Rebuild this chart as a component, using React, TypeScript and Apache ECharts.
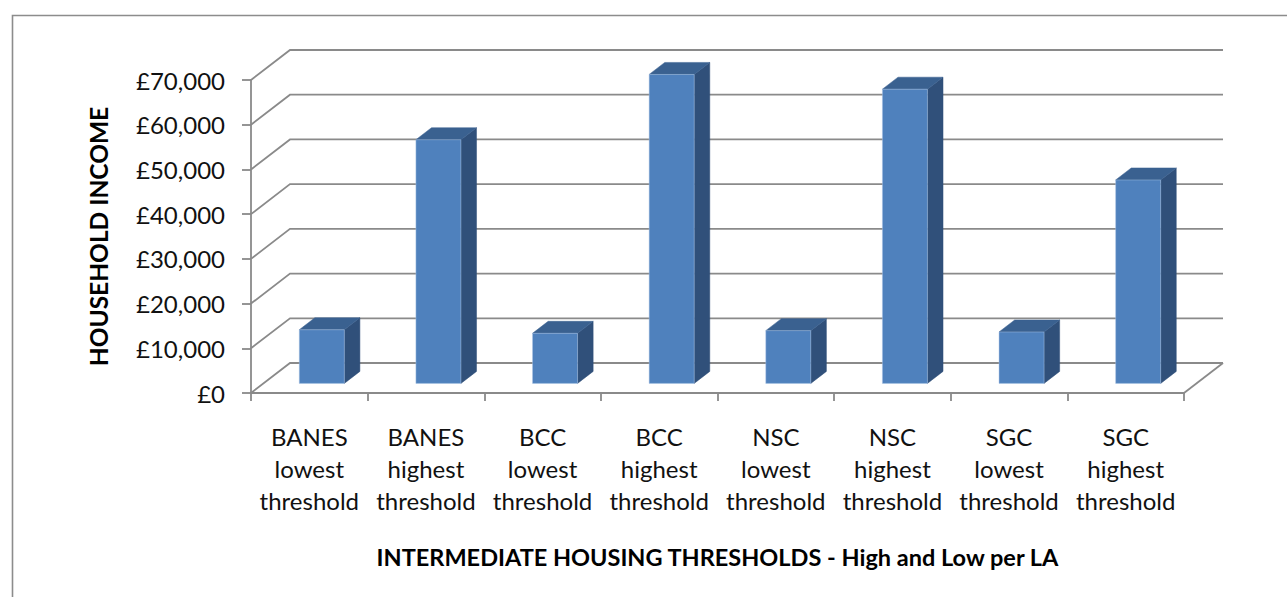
import React, { useEffect, useRef } from "react";
import * as echarts from "echarts";

// Categories (one per local authority threshold) and household income values
const categories = [
  "BANES\nlowest\nthreshold",
  "BANES\nhighest\nthreshold",
  "BCC\nlowest\nthreshold",
  "BCC\nhighest\nthreshold",
  "NSC\nlowest\nthreshold",
  "NSC\nhighest\nthreshold",
  "SGC\nlowest\nthreshold",
  "SGC\nhighest\nthreshold",
];
const householdIncome = [12000, 54500, 11200, 69100, 11800, 65800, 11500, 45500];
const incomeTicks = [0, 10000, 20000, 30000, 40000, 50000, 60000, 70000];

const yAxisTitle = "HOUSEHOLD INCOME";
const xAxisTitle = "INTERMEDIATE HOUSING THRESHOLDS - High and Low per LA";

// Oblique depth of the pseudo-3D plot box
const DEPTH_X = 39;
const DEPTH_Y = 30;
// Bar position inside the depth (fractions of the depth vector) and width (fraction of band)
const BAR_FRONT = 0.32;
const BAR_BACK = 0.72;
const BAR_WIDTH = 0.386;

const GRID_COLOR = "#8a8a8a";
const FONT = "Lato, 'Liberation Sans', sans-serif";

const fmtMoney = (v: number) =>
  "£" + String(Math.round(v)).replace(/\B(?=(\d{3})+(?!\d))/g, ",");

export default function App() {
  const ref = useRef<HTMLDivElement>(null);

  useEffect(() => {
    if (!ref.current) return;
    const chart = echarts.init(ref.current, undefined, { renderer: "svg" });

    const lineStyle = { stroke: GRID_COLOR, lineWidth: 1.8, fill: null };

    const option: any = {
      animation: false,
      backgroundColor: "#ffffff",
      textStyle: { fontFamily: FONT },
      graphic: [
        {
          type: "rect",
          left: 10,
          top: 13,
          shape: { width: 1400, height: 700 },
          style: { fill: "none", stroke: "#8c8c8c", lineWidth: 1.6 },
          silent: true,
        },
      ],
      grid: { left: 251, top: 80, width: 933, height: 313, containLabel: false },
      xAxis: {
        type: "category",
        data: categories,
        boundaryGap: true,
        name: xAxisTitle,
        nameLocation: "middle",
        nameGap: 152,
        nameTextStyle: {
          fontFamily: FONT,
          fontWeight: "bold",
          fontSize: 23.5,
          color: "#000",
        },
        axisLine: { show: true, lineStyle: { color: GRID_COLOR, width: 1.8 } },
        axisTick: {
          show: true,
          interval: 0,
          length: 8,
          lineStyle: { color: GRID_COLOR, width: 1.8 },
        },
        axisLabel: {
          interval: 0,
          margin: 27,
          fontSize: 24,
          lineHeight: 32,
          color: "#111",
          fontFamily: FONT,
        },
        splitLine: { show: false },
      },
      yAxis: {
        type: "value",
        min: 0,
        max: 70000,
        interval: 10000,
        name: yAxisTitle,
        nameLocation: "middle",
        nameGap: 140,
        nameTextStyle: {
          fontFamily: FONT,
          fontWeight: "bold",
          fontSize: 24.5,
          color: "#000",
        },
        axisLine: { show: true, lineStyle: { color: GRID_COLOR, width: 1.8 } },
        axisTick: {
          show: true,
          length: 9,
          lineStyle: { color: GRID_COLOR, width: 1.8 },
        },
        axisLabel: {
          margin: 26,
          fontSize: 24,
          color: "#111",
          fontFamily: FONT,
          formatter: (v: number) => fmtMoney(v),
        },
        splitLine: { show: false },
      },
      series: [
        {
          // back wall gridlines and floor edges
          type: "custom",
          silent: true,
          z: 1,
          data: incomeTicks.map((v) => [0, v]),
          renderItem: (_params: any, api: any) => {
            const v = api.value(1);
            const band = api.size([1, 0])[0];
            const first = api.coord([0, v]);
            const last = api.coord([categories.length - 1, v]);
            const x0 = first[0] - band / 2;
            const x1 = last[0] + band / 2;
            const y = first[1];
            const children: any[] = [
              {
                type: "polyline",
                shape: {
                  points: [
                    [x0, y],
                    [x0 + DEPTH_X, y - DEPTH_Y],
                    [x1 + DEPTH_X, y - DEPTH_Y],
                  ],
                },
                style: lineStyle,
              },
            ];
            if (v === 0) {
              children.push({
                type: "line",
                shape: { x1: x1, y1: y, x2: x1 + DEPTH_X, y2: y - DEPTH_Y },
                style: lineStyle,
              });
            }
            return { type: "group", children };
          },
        },
        {
          // 3D columns: front, side and top faces
          type: "custom",
          z: 3,
          data: householdIncome.map((v, i) => [i, v]),
          renderItem: (_params: any, api: any) => {
            const idx = api.value(0);
            const v = api.value(1);
            const band = api.size([1, 0])[0];
            const base = api.coord([idx, 0]);
            const top = api.coord([idx, v]);
            const w = band * BAR_WIDTH;
            const fx = DEPTH_X * BAR_FRONT;
            const fy = DEPTH_Y * BAR_FRONT;
            const bx = DEPTH_X * BAR_BACK;
            const by = DEPTH_Y * BAR_BACK;
            const L = base[0] - w / 2 + fx;
            const R = base[0] + w / 2 + fx;
            const B = base[1] - fy;
            const T = top[1] - fy;
            const ddx = bx - fx;
            const ddy = by - fy;
            return {
              type: "group",
              children: [
                {
                  type: "polygon",
                  shape: {
                    points: [
                      [R, B],
                      [R + ddx, B - ddy],
                      [R + ddx, T - ddy],
                      [R, T],
                    ],
                  },
                  style: { fill: "#30507a", stroke: "#30507a", lineWidth: 0.5 },
                },
                {
                  type: "polygon",
                  shape: {
                    points: [
                      [L, T],
                      [R, T],
                      [R + ddx, T - ddy],
                      [L + ddx, T - ddy],
                    ],
                  },
                  style: { fill: "#3a6190", stroke: "#3a6190", lineWidth: 0.5 },
                },
                {
                  type: "rect",
                  shape: { x: L, y: T, width: R - L, height: B - T },
                  style: {
                    fill: "#4f81bd",
                    stroke: "rgba(170,195,230,0.6)",
                    lineWidth: 0.8,
                  },
                },
              ],
            };
          },
        },
      ],
    };

    chart.setOption(option);
    return () => chart.dispose();
  }, []);

  return (
    <div
      ref={ref}
      style={{ position: "absolute", left: 0, top: 0, width: 1287, height: 597 }}
    />
  );
}
